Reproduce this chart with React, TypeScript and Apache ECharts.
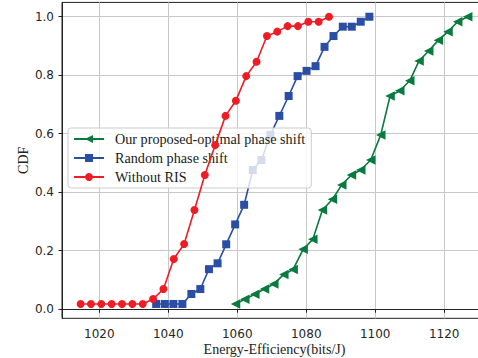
import React, { useEffect, useRef } from "react";
import * as echarts from "echarts";

const xTicks = [1020, 1040, 1060, 1080, 1100, 1120];
const yTicks = [0, 0.2, 0.4, 0.6, 0.8, 1.0];

const proposedX = [1059.5, 1062.2, 1065.1, 1067.9, 1070.6, 1073.5, 1076.2, 1079.1, 1081.9, 1084.7, 1087.6, 1090.3, 1093.1, 1095.8, 1098.7, 1101.6, 1104.3, 1107.1, 1110.0, 1112.7, 1115.5, 1118.3, 1121.1, 1123.9, 1126.8];
const proposedY = [0.018, 0.034, 0.051, 0.069, 0.086, 0.119, 0.136, 0.205, 0.239, 0.339, 0.376, 0.425, 0.459, 0.476, 0.51, 0.596, 0.729, 0.747, 0.781, 0.849, 0.883, 0.92, 0.949, 0.983, 1.0];

const randomX = [1036.5, 1039.0, 1041.5, 1044.1, 1046.7, 1049.3, 1051.8, 1054.3, 1056.8, 1059.4, 1062.0, 1064.5, 1067.0, 1069.6, 1072.2, 1074.9, 1077.5, 1080.1, 1082.7, 1085.3, 1087.9, 1090.6, 1093.2, 1095.8, 1098.3];
const randomY = [0.018, 0.018, 0.018, 0.018, 0.052, 0.069, 0.137, 0.157, 0.222, 0.29, 0.357, 0.476, 0.51, 0.596, 0.661, 0.729, 0.797, 0.815, 0.831, 0.897, 0.934, 0.966, 0.966, 0.983, 1.0];

const noRisX = [1014.6, 1017.6, 1020.6, 1023.6, 1026.6, 1029.6, 1032.6, 1035.6, 1038.6, 1041.6, 1044.6, 1047.6, 1050.6, 1053.6, 1056.6, 1059.6, 1062.6, 1065.6, 1068.6, 1071.6, 1074.6, 1077.6, 1080.6, 1083.6, 1086.6];
const noRisY = [0.018, 0.018, 0.018, 0.018, 0.018, 0.018, 0.018, 0.035, 0.069, 0.172, 0.223, 0.339, 0.459, 0.561, 0.661, 0.713, 0.797, 0.846, 0.934, 0.949, 0.968, 0.968, 0.983, 0.983, 1.0];

const names = ["Our proposed-optimal phase shift", "Random phase shift", "Without RIS"];
const colors = ["#087a3e", "#2b4ea5", "#ee1c25"];

const zip = (xs: number[], ys: number[]) => xs.map((x, i) => [x, ys[i]]);

export default function App() {
  const ref = useRef<HTMLDivElement>(null);
  useEffect(() => {
    const chart = echarts.init(ref.current!, null, { renderer: "svg" });
    const serif = "'Liberation Serif', 'DejaVu Serif', serif";
    const sans = "'DejaVu Sans', sans-serif";
    chart.setOption({
      animation: false,
      backgroundColor: "#fff",
      grid: {
        left: 62, top: 2.4, right: 0, bottom: 39.7,
        outerBoundsMode: "none",
        containLabel: false,
        show: true, borderColor: "#222", borderWidth: 1, backgroundColor: "transparent",
      },
      legend: {
        orient: "vertical",
        left: 68,
        top: 128,
        padding: [4, 6, 4, 5],
        itemWidth: 30,
        itemHeight: 10,
        itemGap: 5,
        backgroundColor: "rgba(255,255,255,0.8)",
        borderColor: "#cccccc",
        borderWidth: 1,
        borderRadius: 3,
        data: names,
        textStyle: { fontFamily: serif, fontSize: 14.2, color: "#1a1a1a", padding: [0, 0, 0, 6] },
      },
      xAxis: {
        type: "value",
        min: 1009.2,
        max: 1132.4,
        name: "Energy-Efficiency(bits/J)",
        nameLocation: "middle",
        nameGap: 24.5,
        nameMoveOverlap: false,
        nameTextStyle: { fontFamily: serif, fontSize: 14, color: "#222" },
        axisLine: { show: true, lineStyle: { color: "#222", width: 1 } },
        axisTick: { show: true, inside: false, length: 3.5, customValues: xTicks, lineStyle: { color: "#222" } },
        axisLabel: { customValues: xTicks, margin: 10, fontSize: 12, fontFamily: sans, color: "#262626", formatter: (v: number) => String(v) },
        splitLine: { show: true, lineStyle: { color: "#c8c8c8", width: 1 } },
      },
      yAxis: {
        type: "value",
        min: -0.031,
        max: 1.049,
        name: "CDF",
        nameLocation: "middle",
        nameGap: 32,
        nameMoveOverlap: false,
        nameTextStyle: { fontFamily: serif, fontSize: 14, color: "#222" },
        axisLine: { show: true, lineStyle: { color: "#222", width: 1 } },
        axisTick: { show: true, inside: false, length: 3.5, customValues: yTicks, lineStyle: { color: "#222" } },
        axisLabel: { customValues: yTicks, margin: 8, fontSize: 12, fontFamily: sans, color: "#262626", formatter: (v: number) => v.toFixed(1) },
        splitLine: { show: true, lineStyle: { color: "#c8c8c8", width: 1 } },
      },
      series: [
        {
          name: names[0],
          type: "line",
          data: zip(proposedX, proposedY),
          symbol: "triangle",
          symbolRotate: 90,
          symbolSize: 9.5,
          showAllSymbol: true,
          lineStyle: { color: colors[0], width: 1.6 },
          itemStyle: { color: colors[0] },
          z: 2,
        },
        {
          name: names[1],
          type: "line",
          data: zip(randomX, randomY),
          symbol: "rect",
          symbolSize: 8,
          showAllSymbol: true,
          lineStyle: { color: colors[1], width: 1.6 },
          itemStyle: { color: colors[1] },
          z: 3,
        },
        {
          name: names[2],
          type: "line",
          data: zip(noRisX, noRisY),
          symbol: "circle",
          symbolSize: 8,
          showAllSymbol: true,
          lineStyle: { color: colors[2], width: 1.6 },
          itemStyle: { color: colors[2] },
          z: 4,
        },
      ],
    });
    return () => chart.dispose();
  }, []);
  return (
    <div style={{ position: "fixed", left: 0, top: 0, width: 478, height: 358, overflow: "hidden", background: "#fff" }}>
      <div ref={ref} style={{ width: 487, height: 358 }} />
    </div>
  );
}
